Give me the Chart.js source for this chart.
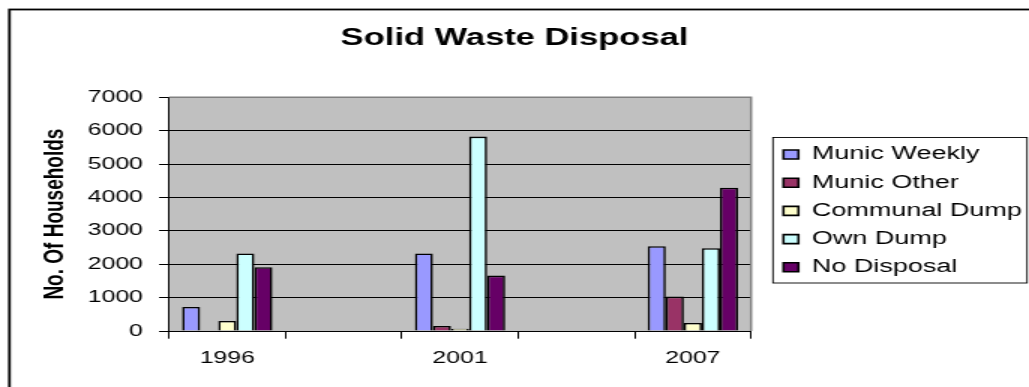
<!DOCTYPE html>
<html>
<head>
<meta charset="utf-8">
<title>Solid Waste Disposal</title>
<script src="https://cdn.jsdelivr.net/npm/chart.js@4.4.1/dist/chart.umd.min.js"></script>
<style>
  html, body { margin: 0; padding: 0; background: #fff; overflow: hidden; }
  #wasteChart { display: block; }
</style>
</head>
<body>
<!-- the original picture is stretched sideways, so the canvas is drawn narrow and widened by its inline style -->
<canvas id="wasteChart" width="686" height="387" style="width:1029px;height:387px"></canvas>
<script>
// categories (blank slots sit between the survey years)
const years = ['1996', '', '2001', '', '2007'];

// households per disposal method
const municWeekly   = [720,  null, 2320, null, 2540];
const municOther    = [0,    null, 150,  null, 1030];
const communalDump  = [300,  null, 70,   null, 240];
const ownDump       = [2320, null, 5820, null, 2480];
const noDisposal    = [1910, null, 1660, null, 4290];

const seriesNames = ['Munic Weekly', 'Munic Other', 'Communal Dump', 'Own Dump', 'No Disposal'];
const seriesColors = ['#9999ff', '#993366', '#ffffcc', '#ccffff', '#660066'];

const yTicks = [0, 1000, 2000, 3000, 4000, 5000, 6000, 7000];

Chart.defaults.font.family = "'Liberation Sans', Arial, sans-serif";
Chart.defaults.color = '#000';

// grey plot area, frame around the whole chart and a box around the legend
const framePlugin = {
  id: 'frame',
  beforeLayout(chart) {
    const lg = chart.legend;
    if (lg && !lg._fixedWidth) {
      const fit = lg.fit;
      lg.fit = function () { fit.call(this); this.width = 185.3; };
      lg._fixedWidth = true;
    }
  },
  afterLayout(chart) {
    const lg = chart.legend;
    lg.left = 512.1;
    lg.top = 135.3;
  },
  beforeDraw(chart) {
    const { ctx, chartArea: a } = chart;
    ctx.save();
    ctx.fillStyle = '#c0c0c0';
    ctx.fillRect(a.left, a.top, a.right - a.left, a.bottom - a.top);
    ctx.restore();
  },
  beforeDatasetsDraw(chart) {
    const { ctx, chartArea: a } = chart;
    ctx.save();
    ctx.strokeStyle = '#808080';
    ctx.lineWidth = 1.5;
    ctx.beginPath();
    ctx.moveTo(a.left, a.top);
    ctx.lineTo(a.right, a.top);
    ctx.lineTo(a.right, a.bottom);
    ctx.stroke();
    ctx.restore();
  },
  afterDraw(chart) {
    const ctx = chart.ctx;
    ctx.save();
    ctx.strokeStyle = '#000';
    ctx.lineWidth = 1.8;
    ctx.strokeRect(6.3, 9.5, 720, 420);
    ctx.lineWidth = 0.9;
    ctx.strokeRect(515.3, 137.5, 169.4, 145.5);
    ctx.restore();
  }
};

const allSeries = [municWeekly, municOther, communalDump, ownDump, noDisposal];

const ctx = document.getElementById('wasteChart').getContext('2d');

const wasteChart = new Chart(ctx, {
  type: 'bar',
  data: {
    labels: years,
    datasets: allSeries.map((values, i) => ({
      label: seriesNames[i],
      data: values,
      backgroundColor: seriesColors[i],
      borderColor: '#000',
      borderWidth: 1.6,
      categoryPercentage: 0.776,
      barPercentage: 1.0
    }))
  },
  options: {
    responsive: false,
    animation: false,
    layout: { padding: { left: 0, top: 10, right: 0, bottom: 0 } },
    scales: {
      x: {
        afterFit(scale) { scale.height = 56; },
        grid: {
          offset: true,
          drawOnChartArea: false,
          drawTicks: true,
          tickLength: 7.7,
          color: '#000'
        },
        border: { color: '#000', width: 1 },
        ticks: {
          padding: 10,
          font: { size: 16.5 },
          color: '#000'
        }
      },
      y: {
        min: 0,
        max: 7000,
        afterFit(scale) { scale.width = 112.7; },
        afterBuildTicks(scale) { scale.ticks = yTicks.map(v => ({ value: v })); },
        grid: {
          color: '#000',
          tickLength: 6.7,
          drawTicks: true
        },
        border: { color: '#000', width: 1 },
        ticks: {
          padding: 10.7,
          font: { size: 16.5 },
          color: '#000',
          callback: v => String(v)
        },
        title: {
          display: true,
          text: 'No. Of Households',
          font: { size: 19, weight: 'bold' },
          color: '#000',
          padding: { top: 25.6, bottom: 0 }
        }
      }
    },
    plugins: {
      title: {
        display: true,
        text: 'Solid Waste Disposal',
        font: { size: 23, weight: 'bold' },
        color: '#000',
        padding: { top: 14.5, bottom: 45.1 }
      },
      legend: {
        position: 'right',
        align: 'start',
        labels: {
          boxWidth: 10,
          boxHeight: 9,
          padding: 10.2,
          font: { size: 18 },
          color: '#000'
        }
      },
      tooltip: { enabled: false }
    }
  },
  plugins: [framePlugin]
});
</script>
</body>
</html>
